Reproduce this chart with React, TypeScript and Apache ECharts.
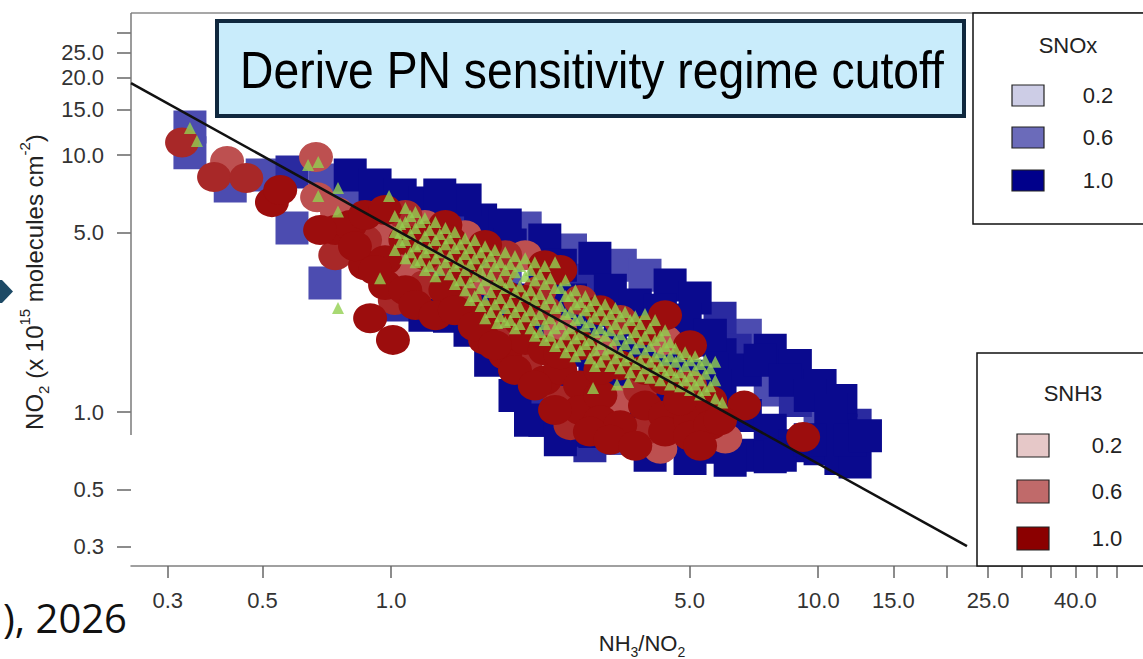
import React, { useEffect, useRef } from "react";
import * as echarts from "echarts";

// ---------- axis definitions ----------
const xRange = [0.246, 57.6];
const yRange = [0.252, 35.7];
const xTickValues = [0.3, 0.5, 1, 5, 10, 15, 20, 25, 30, 35, 40, 45, 50];
const xLabelValues = [0.3, 0.5, 1, 5, 10, 15, 25, 40];
const yTickValues = [0.3, 0.5, 1, 5, 10, 15, 20, 25, 30];
const yLabelValues = [0.3, 0.5, 1, 5, 10, 15, 20, 25];

// ---------- legend definitions ----------
const snoxLevels = ["0.2", "0.6", "1.0"];
const snoxColors = ["#cdcde6", "#6b6bba", "#00008b"];
const snh3Levels = ["0.2", "0.6", "1.0"];
const snh3Colors = ["#e6c8c8", "#c06a6a", "#8b0000"];

// ---------- SNOx squares (NH3/NO2, NO2) ----------
const squaresLight = [
  [0.338, 12.85], [0.338, 10.2], [0.42, 7.58], [0.499, 8.36], [0.586, 5.2], [0.7, 7.99], [0.7, 3.18],
  [0.802, 6.39], [0.917, 5.11], [0.917, 3.9], [1.2, 3.26], [1.62, 2.32], [1.85, 3.57], [2.06, 5.2],
  [2.63, 4.27], [3.0, 1.02], [3.44, 3.73], [3.44, 0.79], [3.93, 3.41], [6.75, 1.99], [7.72, 1.22], [10.1, 0.93],
];
const squaresMid = [
  [0.586, 8.59], [1.05, 2.61], [2.29, 1.16], [4.5, 0.78], [5.89, 2.32], [8.84, 1.11], [12.2, 0.89], [1.37, 6.11],
  [2.85, 3.26], [6.39, 1.74], [2.92, 0.74],
];
const squaresNavy = [
  [0.802, 8.36], [0.917, 7.64], [1.05, 6.99], [1.05, 5.34], [1.05, 3.73], [1.2, 6.51], [1.2, 4.67], [1.2, 2.38],
  [1.37, 4.27], [1.37, 2.98], [1.37, 2.36], [1.62, 5.59], [1.62, 3.9], [1.62, 2.73], [1.85, 5.34], [1.85, 2.28],
  [1.85, 1.82], [2.06, 2.73], [2.06, 1.74], [2.06, 1.36], [2.29, 4.67], [2.29, 3.26], [2.29, 2.08], [2.29, 0.93],
  [2.63, 2.73], [2.63, 1.74], [2.63, 1.11], [2.63, 0.85], [3.0, 3.97], [3.0, 2.49], [3.0, 1.59], [3.0, 0.84],
  [3.44, 2.28], [3.44, 1.46], [3.44, 0.97], [3.93, 2.08], [3.93, 1.33], [3.93, 0.93], [3.93, 0.78], [4.5, 3.12],
  [4.5, 1.99], [4.5, 1.22], [5.15, 2.78], [5.15, 1.91], [5.15, 1.16], [5.15, 0.74], [5.89, 1.67], [5.89, 1.11],
  [5.89, 0.73], [6.75, 1.46], [6.75, 0.97], [6.75, 0.68], [7.72, 1.74], [7.72, 0.85], [7.72, 0.67], [8.84, 1.52],
  [8.84, 0.74], [10.1, 1.27], [10.1, 0.72], [11.3, 1.11], [11.3, 0.85], [11.3, 0.66], [12.2, 0.64],
  [1.3, 5.11], [1.9, 4.47], [2.49, 3.73], [3.26, 2.98], [3.73, 2.61], [4.27, 2.49], [4.88, 2.28], [5.59, 1.99],
  [7.31, 1.59], [8.37, 1.33], [9.58, 1.16], [10.7, 1.02], [11.9, 0.78], [12.9, 0.81], [2.12, 0.93], [2.49, 0.78],
  [4.04, 0.68], [5.01, 0.66], [6.22, 0.65], [8.15, 0.68], [9.58, 0.78], [1.95, 1.16], [1.71, 1.59], [1.53, 2.08],
  [1.49, 6.68], [1.3, 6.99],
  [3.26, 1.82], [3.83, 1.67], [4.38, 1.52], [5.01, 1.38], [5.74, 1.27], [2.85, 2.08], [2.49, 2.28], [2.23, 2.38],
];

// ---------- SNH3 circles ----------
const circlesLight = [
  [0.413, 9.48], [0.667, 9.82], [0.671, 6.86], [0.747, 6.0], [0.802, 4.27], [0.968, 4.88], [1.08, 3.73],
  [1.2, 5.34], [1.49, 4.88], [1.66, 3.26], [2.06, 4.08], [2.49, 2.08], [3.09, 1.74], [3.44, 1.11], [4.38, 1.91],
  [6.06, 0.79], [4.27, 0.72],
];
const circlesMid = [
  [0.324, 11.2], [0.385, 8.21], [0.458, 8.14], [0.74, 4.08], [0.869, 4.67], [1.08, 5.84], [1.2, 3.12],
  [1.34, 3.9], [1.49, 2.73], [1.85, 4.08], [1.85, 2.08], [2.06, 1.52], [2.29, 2.49], [2.49, 1.11], [2.77, 2.73],
  [3.44, 2.28], [3.93, 0.85], [5.01, 1.27], [1.02, 2.73], [2.63, 0.89], [3.83, 1.22], [2.23, 2.98], [1.8, 3.57],
];
const circlesDark = [
  [0.526, 6.56], [0.55, 7.31], [0.893, 2.32], [1.01, 1.91], [0.74, 5.11], [0.802, 5.34], [0.869, 5.84],
  [0.869, 3.73], [0.968, 6.11], [0.968, 3.9], [0.968, 3.12], [1.08, 4.67], [1.08, 2.98], [1.2, 4.08], [1.34, 5.34],
  [1.34, 2.98], [1.49, 3.57], [1.66, 4.47], [1.66, 2.38], [1.66, 1.91], [1.85, 2.85], [1.85, 1.67], [2.06, 2.73],
  [2.06, 1.91], [2.29, 3.73], [2.29, 1.74], [2.29, 1.33], [2.49, 3.57], [2.49, 1.46], [2.77, 1.82], [2.77, 1.27],
  [2.77, 1.02], [3.09, 2.49], [3.09, 1.16], [3.09, 0.93], [3.44, 1.52], [3.44, 0.89], [3.93, 2.08], [3.93, 1.46],
  [3.93, 1.06], [4.38, 2.38], [4.38, 1.33], [4.38, 0.97], [4.38, 0.84], [5.01, 1.82], [5.01, 0.93], [5.01, 0.81],
  [5.59, 1.11], [5.59, 0.89], [6.71, 1.06], [9.22, 0.8],
  [0.682, 5.11], [0.823, 4.42], [0.917, 3.57], [1.14, 2.61], [1.27, 2.38], [1.41, 2.49], [1.57, 2.16],
  [1.75, 1.82], [1.95, 1.46], [2.17, 1.27], [2.42, 1.02], [2.92, 0.84], [3.26, 0.78], [3.73, 0.74], [5.29, 0.74],
  [4.75, 1.11], [5.89, 0.93], [3.09, 1.46], [2.49, 1.68], [2.0, 2.28], [1.37, 4.67], [1.53, 4.08], [1.23, 4.88],
];

// ---------- observations (triangles) ----------
const triangles = [
  [0.338, 12.74], [0.351, 11.34], [0.639, 9.15], [0.675, 9.39], [0.675, 6.93], [0.751, 7.44], [0.751, 6.03],
  [0.751, 2.54], [0.989, 6.93], [1.14, 6.0], [1.14, 5.2], [1.05, 4.97], [0.942, 3.32], [1.77, 2.22],
  [1.02, 5.79], [1.02, 5.02], [1.02, 4.27],
  [1.08, 6.22], [1.08, 5.49], [1.08, 4.67], [1.08, 3.97],
  [1.14, 4.42], [1.14, 3.83],
  [1.2, 5.69], [1.2, 4.84], [1.2, 4.19], [1.2, 3.57],
  [1.27, 5.49], [1.27, 4.67], [1.27, 3.97], [1.27, 3.38],
  [1.34, 5.2], [1.34, 4.5], [1.34, 3.83],
  [1.41, 5.02], [1.41, 4.35], [1.41, 3.7], [1.41, 3.15],
  [1.49, 4.75], [1.49, 4.12], [1.49, 3.57], [1.49, 2.98],
  [1.57, 4.67], [1.57, 3.97], [1.57, 3.38], [1.57, 2.83],
  [1.66, 4.42], [1.66, 3.83], [1.66, 3.26], [1.66, 2.73], [1.66, 2.32],
  [1.75, 4.27], [1.75, 3.7], [1.75, 3.15], [1.75, 2.63],
  [1.85, 4.19], [1.85, 3.57], [1.85, 3.04], [1.85, 2.54], [1.85, 2.24],
  [1.95, 4.05], [1.95, 3.5], [1.95, 2.93], [1.95, 2.45], [1.95, 2.12],
  [2.06, 3.97], [2.06, 3.38], [2.06, 2.83], [2.06, 2.36],
  [2.17, 3.83], [2.17, 3.26], [2.17, 2.73], [2.17, 2.28], [2.17, 1.98],
  [2.29, 3.7], [2.29, 3.15], [2.29, 2.63], [2.29, 2.2], [2.29, 1.91],
  [2.42, 3.83], [2.42, 3.04], [2.42, 2.54], [2.42, 2.12], [2.42, 1.81],
  [2.56, 3.26], [2.56, 2.83], [2.56, 2.41], [2.56, 2.01], [2.56, 1.71],
  [2.7, 2.98], [2.7, 2.63], [2.7, 2.28], [2.7, 1.94], [2.7, 1.65],
  [2.85, 2.83], [2.85, 2.49], [2.85, 2.16], [2.85, 1.84],
  [3.0, 2.73], [3.0, 2.36], [3.0, 2.05], [3.0, 1.74], [3.0, 1.51],
  [3.17, 2.63], [3.17, 2.28], [3.17, 1.98], [3.17, 1.68],
  [3.35, 2.54], [3.35, 2.2], [3.35, 1.91], [3.35, 1.62],
  [3.53, 2.45], [3.53, 2.12], [3.53, 1.84], [3.53, 1.59],
  [3.73, 2.36], [3.73, 2.05], [3.73, 1.77], [3.73, 1.54],
  [3.93, 2.41], [3.93, 1.98], [3.93, 1.71], [3.93, 1.48],
  [4.15, 2.28], [4.15, 1.91], [4.15, 1.65], [4.15, 1.46],
  [4.38, 2.08], [4.38, 1.81], [4.38, 1.59], [4.38, 1.41],
  [4.63, 1.77], [4.63, 1.57], [4.63, 1.38],
  [4.88, 1.71], [4.88, 1.51], [4.88, 1.33],
  [5.15, 1.65], [5.15, 1.46], [5.15, 1.28],
  [5.44, 1.59], [5.44, 1.41], [5.44, 1.22],
  [5.74, 1.57], [5.74, 1.33], [5.74, 1.13],
  [2.97, 1.24], [3.38, 1.28], [3.59, 1.31], [5.96, 1.09],
  [1.05, 5.39], [1.05, 4.59], [1.11, 5.79], [1.11, 4.93], [1.11, 4.19], [1.17, 5.49], [1.17, 4.5], [1.17, 3.9],
  [1.23, 5.11], [1.23, 4.35], [1.23, 3.7], [1.3, 4.93], [1.3, 4.19], [1.3, 3.57], [1.37, 4.75], [1.37, 4.05],
  [1.37, 3.44], [1.45, 4.5], [1.45, 3.83], [1.45, 3.26], [1.53, 4.35], [1.53, 3.77], [1.53, 3.2], [1.53, 2.73],
  [1.62, 4.19], [1.62, 3.57], [1.62, 3.04], [1.62, 2.59], [1.71, 4.05], [1.71, 3.44], [1.71, 2.93], [1.71, 2.45],
  [1.8, 3.83], [1.8, 3.26], [1.8, 2.78], [1.8, 2.36], [1.9, 3.77], [1.9, 3.2], [1.9, 2.68], [1.9, 2.28],
  [2.0, 3.7], [2.0, 3.09], [2.0, 2.59], [2.0, 2.2], [2.12, 3.57], [2.12, 2.98], [2.12, 2.49], [2.12, 2.12],
  [2.23, 3.44], [2.23, 2.88], [2.23, 2.41], [2.23, 2.05], [2.36, 3.32], [2.36, 2.78], [2.36, 2.32], [2.36, 1.98],
  [2.49, 3.04], [2.49, 2.59], [2.49, 2.2], [2.49, 1.87], [2.63, 2.83], [2.63, 2.45], [2.63, 2.12], [2.63, 1.81],
  [2.77, 2.68], [2.77, 2.32], [2.77, 2.01], [2.77, 1.74], [2.92, 2.59], [2.92, 2.24], [2.92, 1.91], [2.92, 1.62],
  [3.09, 2.49], [3.09, 2.12], [3.09, 1.84], [3.09, 1.57], [3.26, 2.41], [3.26, 2.08], [3.26, 1.77], [3.26, 1.51],
  [3.44, 2.36], [3.44, 2.01], [3.44, 1.71], [3.44, 1.48], [3.63, 2.28], [3.63, 1.94], [3.63, 1.65], [3.63, 1.43],
  [3.83, 2.2], [3.83, 1.87], [3.83, 1.59], [3.83, 1.38], [4.04, 2.12], [4.04, 1.81], [4.04, 1.57], [4.04, 1.36],
  [4.27, 1.98], [4.27, 1.71], [4.27, 1.51], [4.27, 1.33], [4.5, 1.87], [4.5, 1.65], [4.5, 1.46], [4.5, 1.28],
  [4.75, 1.65], [4.75, 1.43], [4.75, 1.26], [5.01, 1.59], [5.01, 1.38], [5.01, 1.22], [5.29, 1.54], [5.29, 1.33],
  [5.29, 1.17], [5.59, 1.48], [5.59, 1.26],
];

// ---------- regression cutoff line ----------
const cutoffLine = [
  [0.246, 19.05],
  [22.3, 0.301],
];

const FONT = "'Liberation Sans', Arial, sans-serif";
const lg = (v: number) => Math.log10(v);
const fmt = (v: number) => Math.pow(10, v).toFixed(1);

function legendBox(x: number, y: number, w: number, h: number, title: string, levels: string[], colors: string[], swX: number, swYs: number[], swH: number, labX: number, titleX: number, titleY: number) {
  const els: any[] = [
    { type: "rect", z: 100, shape: { x, y, width: w, height: h }, style: { fill: "#fff", stroke: "#111", lineWidth: 1.5 } },
    { type: "text", z: 101, x: titleX, y: titleY, style: { text: title, fontSize: 22, fontFamily: FONT, fill: "#222", align: "center", verticalAlign: "middle" } },
  ];
  levels.forEach((lv, i) => {
    els.push({ type: "rect", z: 101, shape: { x: swX, y: swYs[i], width: 32, height: swH }, style: { fill: colors[i], stroke: "#222", lineWidth: 1.2 } });
    els.push({ type: "text", z: 101, x: labX, y: swYs[i] + swH / 2, style: { text: lv, fontSize: 22, fontFamily: FONT, fill: "#222", align: "center", verticalAlign: "middle" } });
  });
  return els;
}

export default function App() {
  const ref = useRef<HTMLDivElement>(null);
  useEffect(() => {
    const chart = echarts.init(ref.current!, undefined, { renderer: "svg" });
    const sq = (name: string, data: number[][], color: string) => ({
      name, type: "scatter", data, symbol: "rect", symbolSize: 33, silent: true, z: 2,
      itemStyle: { color, opacity: 1 },
    });
    const ci = (name: string, data: number[][], color: string) => ({
      name, type: "scatter", data, symbol: "circle", symbolSize: [34, 30], silent: true, z: 3,
      itemStyle: { color, opacity: 1 },
    });
    const option: any = {
      animation: false,
      backgroundColor: "#ffffff",
      grid: { left: 131, top: 13, right: 0, bottom: 93, containLabel: false },
      xAxis: [
        {
          type: "log", logBase: 10, min: xRange[0], max: xRange[1],
          axisLine: { show: false }, axisTick: { show: false }, axisLabel: { show: false }, splitLine: { show: false },
        },
        {
          type: "value", position: "bottom", min: lg(xRange[0]), max: lg(xRange[1]),
          axisLine: { show: true, onZero: false, lineStyle: { color: "#808080", width: 1.5 } },
          axisTick: { show: true, customValues: xTickValues.map(lg), length: 12, lineStyle: { color: "#666", width: 1.5 } },
          axisLabel: { customValues: xLabelValues.map(lg), formatter: fmt, margin: 23, fontSize: 22, color: "#333", fontFamily: FONT },
          splitLine: { show: false },
        },
      ],
      yAxis: [
        {
          type: "log", logBase: 10, min: yRange[0], max: yRange[1],
          axisLine: { show: false }, axisTick: { show: false }, axisLabel: { show: false }, splitLine: { show: false },
        },
        {
          type: "value", position: "left", min: lg(yRange[0]), max: lg(yRange[1]),
          axisLine: { show: false },
          axisTick: { show: true, customValues: yTickValues.map(lg), length: 14, lineStyle: { color: "#666", width: 1.5 } },
          axisLabel: { customValues: yLabelValues.map(lg), formatter: fmt, margin: 27, fontSize: 22, color: "#333", fontFamily: FONT },
          splitLine: { show: false },
        },
      ],
      series: [
        sq("SNOx 0.6", squaresLight, "#4c4cb0"),
        sq("SNOx 0.8", squaresMid, "#2a2aa0"),
        sq("SNOx 1.0", squaresNavy, "#0a0a8e"),
        ci("SNH3 0.6", circlesLight, "#bd5050"),
        ci("SNH3 0.8", circlesMid, "#a82828"),
        ci("SNH3 1.0", circlesDark, "#9c0d0d"),
        {
          name: "Observed", type: "scatter", data: triangles, symbol: "triangle", symbolSize: 12, silent: true, z: 4,
          itemStyle: { color: "#92d050" },
        },
        {
          name: "Cutoff", type: "line", data: cutoffLine, showSymbol: false, silent: true, z: 5,
          lineStyle: { color: "#111", width: 2.5 },
        },
      ],
      graphic: [
        { type: "line", z: 1, shape: { x1: 131, y1: 13, x2: 1143, y2: 13 }, style: { stroke: "#8a8a8a", lineWidth: 1.5 } },
        { type: "line", z: 1, shape: { x1: 131, y1: 13, x2: 131, y2: 435 }, style: { stroke: "#7a7a7a", lineWidth: 1.5 } },
        { type: "rect", z: 100, shape: { x: 217, y: 21, width: 747, height: 95 }, style: { fill: "#c9ecfb", stroke: "#10283e", lineWidth: 4 } },
        {
          type: "text", z: 101, x: 592, y: 70, scaleX: 0.89,
          style: { text: "Derive PN sensitivity regime cutoff", fontSize: 52, fontFamily: FONT, fill: "#000", align: "center", verticalAlign: "middle" },
        },
        ...legendBox(973, 13, 200, 211, "SNOx", snoxLevels, snoxColors, 1012, [85, 127, 170], 21, 1098, 1068, 45),
        ...legendBox(977, 353, 200, 213, "SNH3", snh3Levels, snh3Colors, 1017, [434, 480, 527], 23, 1107, 1073, 393),
        {
          type: "text", z: 50, x: 34, y: 282, rotation: Math.PI / 2,
          style: {
            text: "{n|NO}{sb|2}{n| (x 10}{sp|15}{n| molecules cm}{sp|-2}{n|)}",
            fontFamily: FONT, fill: "#222", align: "center", verticalAlign: "middle",
            rich: {
              n: { fontSize: 24, lineHeight: 34, fontFamily: FONT, fill: "#222", verticalAlign: "middle" },
              sb: { fontSize: 15, lineHeight: 15, fontFamily: FONT, fill: "#222", verticalAlign: "bottom" },
              sp: { fontSize: 15, lineHeight: 15, fontFamily: FONT, fill: "#222", verticalAlign: "top" },
            },
          },
        },
        {
          type: "text", z: 50, x: 642, y: 643,
          style: {
            text: "{n|NH}{sb|3}{n|/NO}{sb|2}",
            fontFamily: FONT, fill: "#222", align: "center", verticalAlign: "middle",
            rich: {
              n: { fontSize: 22, lineHeight: 32, fontFamily: FONT, fill: "#222", verticalAlign: "middle" },
              sb: { fontSize: 14, lineHeight: 14, fontFamily: FONT, fill: "#222", verticalAlign: "bottom" },
            },
          },
        },
        { type: "polygon", z: 50, shape: { points: [[0, 280], [2, 280], [13, 291.5], [2, 303], [0, 303]] }, style: { fill: "#1d4a66" } },
        {
          type: "text", z: 50, x: 127, y: 617,
          style: { text: "), 2026", fontSize: 40, fontFamily: "'Open Sans', 'Noto Sans', sans-serif", fill: "#111", align: "right", verticalAlign: "middle" },
        },
      ],
    };
    chart.setOption(option);
    return () => chart.dispose();
  }, []);
  return <div ref={ref} style={{ position: "fixed", left: 0, top: 0, width: 1143, height: 659, background: "#fff" }} />;
}
